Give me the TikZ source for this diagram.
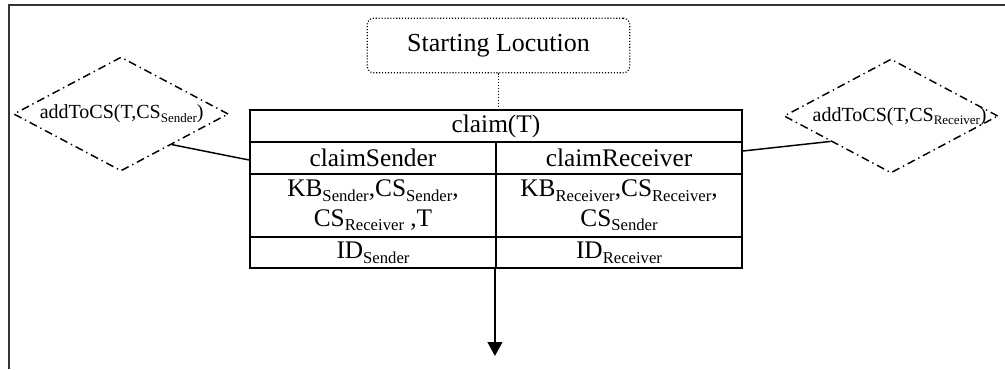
\documentclass[tikz,border=0pt]{standalone}
\usepackage{fontspec}
\setmainfont{Liberation Serif}
\usetikzlibrary{shapes.geometric,arrows.meta,calc}
\newcommand{\subT}[1]{\raisebox{-3.5pt}{\fontsize{12.5}{13}\selectfont #1}}
\newcommand{\subD}[1]{\raisebox{-2.5pt}{\fontsize{9.75}{10}\selectfont #1}}
\begin{document}
\begin{tikzpicture}[x=0.75pt,y=-0.75pt,
  cell/.style={draw,line width=1.4pt,inner sep=0pt,font=\fontsize{19}{22}\selectfont,align=center,minimum width=184.5pt},
  dia/.style={diamond,draw,line width=1.1pt,dash pattern=on 6pt off 3pt on 1pt off 3pt,inner sep=0pt,minimum width=161pt,minimum height=85.5pt},
  dtext/.style={inner sep=0pt,font=\fontsize{15}{17}\selectfont},
  startbox/.style={draw,rounded corners=5pt,line width=0.9pt,dash pattern=on 0.8pt off 1.4pt,minimum width=197pt,minimum height=41pt,font=\fontsize{19.5}{22}\selectfont},
  conn/.style={line width=1.1pt},
  dotline/.style={line width=0.9pt,dash pattern=on 0.8pt off 1.4pt},
  arr/.style={line width=1.6pt,-{Triangle[length=10.5pt,width=11pt]}},
  frameline/.style={line width=1.5pt,black!80}]
\useasboundingbox (0,0) rectangle (1005,369);
\draw[frameline] (9,369) -- (9,5) -- (1005,5);
% starting box
\node[startbox] (start) at (498.5,45.5) {Starting Locution};
% table
\node[cell,minimum width=369pt,minimum height=24pt] (title) at (496,126) {claim(T)};
\node[cell,minimum height=24pt] (cs) at (373,158) {claimSender};
\node[cell,minimum height=24pt] (cr) at (619,158) {claimReceiver};
\node[cell,minimum height=47.25pt] (ks) at (373,205.5) {KB\subT{Sender},CS\subT{Sender},\\CS\subT{Receiver} ,T};
\node[cell,minimum height=47.25pt] (kr) at (619,205.5) {KB\subT{Receiver},CS\subT{Receiver},\\CS\subT{Sender}};
\node[cell,minimum height=23.25pt] (is) at (373,252.5) {ID\subT{Sender}};
\node[cell,minimum height=23.25pt] (ir) at (619,252.5) {ID\subT{Receiver}};
% diamonds
\node[dia] (ld) at (121,114) {};
\node[dtext] (ldt) at ([xshift=0.5pt]ld.center) {addToCS(T,CS\subD{Sender})};
\node[dia,minimum width=160.5pt] (rd) at (891,116) {};
\node[dtext] (rdt) at ([xshift=6.5pt,yshift=-0.5pt]rd.center) {addToCS(T,CS\subD{Receiver})};
% connectors
\coordinate (la) at ($(ld.east)!0.53!(ld.south)$);
\coordinate (lt) at ([yshift=-1.5pt]cs.west);
\draw[conn] (la) -- (lt);
\coordinate (ra) at ($(rd.west)!0.44!(rd.south)$);
\coordinate (rt) at ([yshift=5.25pt]cr.east);
\draw[conn] (rt) -- (ra);
\draw[dotline] (start.south) -- (start.south |- title.north);
\coordinate (aend) at (494,356);
\draw[arr] ([xshift=-1.5pt]is.south east) -- ([xshift=-1.5pt]is.south east |- aend);
\end{tikzpicture}
\end{document}
